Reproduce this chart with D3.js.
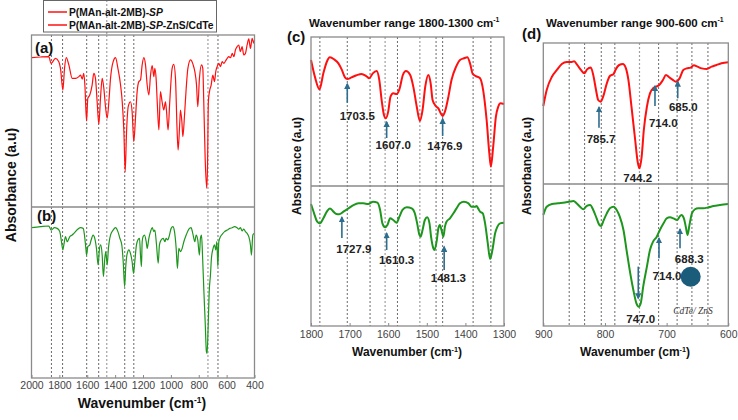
<!DOCTYPE html>
<html><head><meta charset="utf-8">
<script src="https://cdn.jsdelivr.net/npm/d3@7"></script>
<style>body{margin:0;background:#fff}svg{display:block;font-family:Arial,"Liberation Sans",sans-serif}</style>
</head><body><svg id="c" width="738" height="420"></svg>
<script>
// ---------- DATA (wavenumber, relative absorbance 0-100) ----------
const seriesNames = ["P(MAn-alt-2MB)-SP", "P(MAn-alt-2MB)-SP-ZnS/CdTe"];
const redFull = [[2000,86.8],[1935,87.2],[1876,87.4],[1859,83.5],[1828,86.4],[1804,84.5],[1792,80.6],[1775,68.0],[1763,80.6],[1751,86.8],[1732,82.6],[1708,74.8],[1684,74.8],[1660,75.8],[1648,76.7],[1636,74.4],[1625,77.7],[1617,70.9],[1605,50.0],[1596,63.2],[1582,65.1],[1565,70.9],[1553,77.7],[1541,74.8],[1529,61.2],[1517,48.1],[1505,63.2],[1493,74.8],[1481,69.0],[1469,58.3],[1457,51.6],[1445,61.2],[1433,74.8],[1414,84.5],[1397,86.8],[1380,80.6],[1361,70.9],[1349,61.2],[1337,43.8],[1328,20.5],[1318,43.8],[1306,58.3],[1290,61.2],[1278,55.4],[1266,38.0],[1254,51.6],[1242,67.1],[1230,72.9],[1218,73.8],[1206,82.6],[1194,86.8],[1182,82.6],[1170,70.9],[1158,65.1],[1146,76.7],[1134,82.2],[1122,75.8],[1115,80.6],[1106,74.8],[1098,61.2],[1086,44.8],[1075,67.1],[1063,61.2],[1051,56.4],[1039,61.2],[1032,56.4],[1020,44.8],[1008,61.2],[991,80.6],[979,82.9],[967,74.8],[955,43.8],[948,33.1],[936,49.6],[931,56.4],[921,49.6],[914,40.9],[902,53.5],[890,69.0],[878,80.6],[859,85.5],[840,82.6],[828,78.7],[816,70.9],[807,58.3],[795,74.8],[780,82.6],[771,80.6],[764,61.2],[754,28.3],[743,10.9],[737,24.0],[731,61.2],[723,67.1],[711,70.9],[699,76.7],[687,72.9],[678,78.7],[668,81.6],[656,83.5],[644,81.6],[632,84.5],[620,83.5],[608,84.9],[596,86.4],[584,87.4],[572,86.8],[560,89.3],[548,87.4],[537,91.3],[525,93.2],[513,94.2],[501,90.3],[489,93.2],[477,88.4],[465,89.3],[453,94.2],[441,97.7],[429,92.2],[417,98.1],[405,95.2],[400,97.1]];
const greenFull = [[2000,87.9],[1935,88.5],[1876,88.9],[1859,86.5],[1835,87.9],[1816,87.5],[1797,85.6],[1785,79.7],[1775,74.9],[1768,77.8],[1756,82.7],[1744,79.7],[1725,82.7],[1708,83.6],[1696,84.6],[1648,87.9],[1629,87.5],[1620,83.6],[1610,75.8],[1605,71.9],[1596,76.8],[1582,77.8],[1572,80.7],[1558,83.6],[1546,81.7],[1534,75.8],[1522,66.1],[1512,75.8],[1503,77.8],[1493,71.9],[1484,59.3],[1474,70.0],[1467,73.9],[1457,66.1],[1448,75.8],[1433,83.6],[1414,86.5],[1397,87.9],[1380,85.6],[1366,81.7],[1352,77.8],[1342,68.0],[1332,53.4],[1323,66.1],[1313,72.9],[1301,74.9],[1290,72.9],[1278,68.0],[1268,61.2],[1259,68.0],[1247,77.8],[1237,80.7],[1225,81.7],[1218,71.9],[1211,65.1],[1206,79.7],[1199,82.7],[1189,83.6],[1177,79.7],[1170,75.8],[1158,81.7],[1146,85.6],[1134,87.9],[1122,85.6],[1115,86.5],[1103,77.8],[1091,67.1],[1082,77.8],[1070,80.7],[1055,81.7],[1043,79.7],[1034,81.7],[1022,80.7],[1010,83.6],[998,87.5],[986,88.5],[974,85.6],[962,75.8],[953,64.1],[943,75.8],[931,73.9],[919,75.8],[907,79.7],[890,83.6],[871,87.1],[855,87.9],[843,84.6],[828,79.7],[819,83.6],[807,80.7],[795,71.9],[788,81.7],[780,83.6],[773,71.9],[764,52.4],[754,33.0],[745,15.4],[740,14.4],[733,29.0],[725,50.5],[716,60.2],[709,70.0],[697,75.8],[687,77.8],[678,74.9],[670,79.7],[663,65.1],[656,79.7],[644,82.7],[632,84.0],[615,85.6],[596,86.5],[577,87.5],[560,87.9],[544,88.5],[525,87.9],[513,87.1],[501,87.9],[489,86.0],[477,87.1],[465,85.6],[453,84.6],[441,82.7],[429,77.8],[422,71.9],[412,83.6],[400,84.6]];
const redC = [[1800,84.6],[1790,73.4],[1778,64.9],[1768,75.6],[1759,83.4],[1751,86.4],[1740,85.0],[1729,82.3],[1720,77.9],[1712,72.9],[1706,71.8],[1695,72.9],[1682,74.3],[1669,75.2],[1657,73.8],[1649,72.3],[1640,75.6],[1630,77.2],[1623,71.1],[1617,57.7],[1611,47.7],[1606,45.4],[1600,49.9],[1594,60.0],[1587,62.2],[1578,61.7],[1571,64.9],[1562,74.5],[1554,77.2],[1543,74.5],[1535,66.7],[1526,53.2],[1518,43.6],[1511,51.0],[1504,66.7],[1496,74.5],[1490,68.9],[1485,57.7],[1477,53.7],[1470,52.1],[1464,48.8],[1459,47.0],[1453,49.9],[1444,60.0],[1436,71.1],[1424,80.1],[1414,84.6],[1404,85.7],[1395,86.4],[1388,82.3],[1381,75.2],[1373,73.8],[1362,72.3],[1354,64.4],[1345,44.3],[1338,21.9],[1334,13.0],[1328,26.4],[1321,46.5],[1315,53.2],[1309,55.5],[1300,55.0]];
const greenC = [[1800,87.1],[1792,80.5],[1784,74.5],[1777,73.3],[1768,76.9],[1759,81.7],[1751,84.0],[1742,81.7],[1734,80.0],[1727,79.8],[1716,81.7],[1703,84.0],[1690,86.4],[1677,87.6],[1664,87.6],[1652,87.1],[1639,88.8],[1628,88.1],[1621,82.9],[1615,73.3],[1608,70.5],[1602,72.1],[1595,76.9],[1587,75.7],[1578,73.8],[1571,78.1],[1563,82.9],[1552,84.8],[1539,84.0],[1531,80.5],[1525,73.3],[1519,65.0],[1516,63.8],[1511,68.6],[1505,75.7],[1499,77.6],[1493,73.3],[1489,63.8],[1483,55.5],[1480,54.3],[1474,61.4],[1470,69.8],[1466,72.1],[1462,68.6],[1457,63.8],[1453,71.0],[1449,74.5],[1440,76.9],[1431,80.5],[1423,84.0],[1414,87.6],[1404,88.8],[1392,87.6],[1384,85.2],[1375,85.2],[1371,85.7],[1367,84.0],[1362,81.7],[1355,80.5],[1349,73.3],[1342,59.0],[1336,47.9],[1330,54.3],[1323,66.2],[1317,71.0],[1310,73.3],[1300,73.8]];
const redD = [[900,55.3],[894.5,66.7],[886,76.1],[878,80.9],[870,85.1],[862,86.5],[854,86.5],[850,87.0],[845,84.4],[839,80.9],[833.5,78.5],[829,81.3],[823,82.7],[819,77.3],[814.5,66.7],[811,59.6],[807,58.4],[803,61.9],[797,71.4],[792,76.6],[786,78.0],[783,80.9],[777,84.4],[771,85.1],[766,82.0],[762,73.8],[757,54.8],[751,31.2],[747,15.8],[744,11.1],[740.5,19.4],[737,38.3],[732,54.8],[727,64.3],[722,67.9],[717,69.0],[712,70.2],[706,73.8],[701,77.3],[696,75.7],[690,73.8],[685,72.6],[679,74.9],[673,80.9],[667.5,82.0],[661,82.5],[656,84.2],[650,83.2],[643,82.0],[635,81.6],[627,83.2],[619,84.4],[611,85.6],[600,86.3]];
const greenD = [[900,78.2],[894.5,84.0],[886,85.9],[876,86.4],[865,86.9],[857,87.6],[851,88.0],[846,86.4],[840.5,84.0],[835,82.2],[830,84.5],[824,85.2],[819,81.7],[813.5,75.8],[809,71.1],[806,70.4],[803,73.5],[797,79.3],[792,82.9],[786,84.0],[781,81.7],[776,77.0],[770,67.6],[765,53.5],[759,37.1],[754,25.4],[749,16.0],[745,13.6],[742,16.0],[738,27.7],[732,41.8],[727,53.5],[722,59.4],[716,62.9],[711,67.6],[705,72.3],[700,75.8],[694.5,76.5],[689,75.8],[683,74.6],[679,77.0],[676,78.2],[672,75.8],[669,70.0],[666,64.1],[663,71.1],[659,79.3],[654,82.2],[649,82.9],[640.5,82.9],[632,83.6],[624,84.5],[613.5,85.2],[600,85.9]];
const linesA = [1857,1777,1604,1518,1460,1331,1266,734,662];
const linesC = [1777,1706,1647,1608,1576,1518,1476,1459,1380,1334];
const linesD = [858,833,806,784,744,713,683,659,633];
const ticksA = [2000,1800,1600,1400,1200,1000,800,600,400];
const ticksC = [1800,1700,1600,1500,1400,1300];
const ticksD = [900,800,700,600];
// annotations: label, arrow wavenumber, arrow tail value, arrow head value, label wavenumber, label value
const annC1 = [["1703.5",1706,55.9,68.5,1680,44.3],["1607.0",1604,32.2,43.0,1587,24.8],["1476.9",1459,33.6,45.0,1453,24.2]];
const annC2 = [["1727.9",1720,62.9,77.6,1689,52.4],["1610.3",1604,54.3,66.2,1578,44.3],["1481.3",1455,40.0,56.6,1444,31.2]];
const annD1 = [["785.7",809.7,39.9,54.4,806.4,29.3],["744.2",null,0,0,747,1.6],["714.0",718.9,55.3,69.5,705.4,40.6],["685.0",682,60.8,72.6,673,51.8]];
const annD2 = [["714.0",712.4,47.7,61.8,699.4,32.4],["688.3",678.3,54.7,68.1,663.3,44.6],["747.0",746,41.8,19.5,742,1.9]];
const dotD = [661,34.7];
const dotLabel = "CdTe/ ZnS";

// ---------- DRAW ----------
const svg = d3.select("#c");
const RED = "#ff1010", GREEN = "#1e961e", ARROW = "#2d6d8e", FRAME = "#8a8a8a";
const defs = svg.append("defs");
defs.append("marker").attr("id","ah").attr("viewBox","0 0 10 10").attr("refX",8).attr("refY",5)
  .attr("markerWidth",4).attr("markerHeight",4).attr("orient","auto")
  .append("path").attr("d","M0,0L10,5L0,10z").attr("fill",ARROW);

const xA = d3.scaleLinear().domain([2000,400]).range([31.5,254.5]);
const yA = d3.scaleLinear().domain([0,100]).range([207,35]);
const yB = d3.scaleLinear().domain([0,100]).range([378,207]);
const xC = d3.scaleLinear().domain([1800,1300]).range([311,504]);
const yC1 = d3.scaleLinear().domain([0,100]).range([186,37]);
const yC2 = d3.scaleLinear().domain([0,100]).range([326,186]);
const xD = d3.scaleLinear().domain([900,600]).range([543.3,728.3]);
const yD1 = d3.scaleLinear().domain([0,100]).range([184,43]);
const yD2 = d3.scaleLinear().domain([0,100]).range([326,184]);

function dashed(lines, x, y0, y1, light){
  svg.append("g").selectAll("line").data(lines).join("line")
    .attr("x1",d=>x(d)).attr("x2",d=>x(d)).attr("y1",y0).attr("y2",y1)
    .attr("stroke",d=>light.includes(d)?"#a0a0a0":"#444").attr("stroke-width",d=>light.includes(d)?1.2:0.8)
    .attr("stroke-dasharray","2,2");
}
dashed(linesA, xA, 35, 378, [1460,734]);
svg.append("line").attr("x1",xA(1460)).attr("x2",xA(1460)).attr("y1",0).attr("y2",35)
  .attr("stroke","#a0a0a0").attr("stroke-width",1.2).attr("stroke-dasharray","2,2");
dashed(linesC, xC, 37, 326, [1608,1518]);
dashed(linesD, xD, 43, 326, [744]);

function curve(data, x, y, color, w, c){
  svg.append("path").datum(data).attr("fill","none").attr("stroke",color).attr("stroke-width",w)
    .attr("stroke-linejoin","round")
    .attr("d", d3.line().x(d=>x(d[0])).y(d=>y(d[1])).curve(c));
}
curve(redFull, xA, yA, RED, 1.2, d3.curveMonotoneX);
curve(greenFull, xA, yB, GREEN, 1.2, d3.curveMonotoneX);
curve(redC, xC, yC1, RED, 2, d3.curveMonotoneX);
curve(greenC, xC, yC2, GREEN, 2, d3.curveMonotoneX);
curve(redD, xD, yD1, RED, 2, d3.curveMonotoneX);
curve(greenD, xD, yD2, GREEN, 2, d3.curveMonotoneX);

function frame(x, yTop, yBot, yMid){
  const [l,r] = x.range();
  svg.append("rect").attr("x",l).attr("y",yTop).attr("width",r-l).attr("height",yBot-yTop)
    .attr("fill","none").attr("stroke",FRAME).attr("stroke-width",1.3);
  svg.append("line").attr("x1",l).attr("x2",r).attr("y1",yMid).attr("y2",yMid)
    .attr("stroke",FRAME).attr("stroke-width",1.3);
}
frame(xA,35,378,207); frame(xC,37,326,186); frame(xD,43,326,184);

function axis(x, yBot, ticks, minor, fs, pad){
  const g = svg.append("g").attr("transform",`translate(0,${yBot})`);
  if(minor) g.call(d3.axisBottom(x).tickValues(minor).tickSizeInner(-3).tickSizeOuter(0).tickFormat(""));
  g.call(d3.axisBottom(x).tickValues(ticks).tickSizeInner(-3).tickSizeOuter(0).tickPadding(pad).tickFormat(d3.format("d")));
  g.select(".domain").remove();
  g.selectAll("line").attr("stroke",FRAME);
  g.selectAll("text").attr("font-size",fs).attr("fill","#444").attr("font-family","Arial,'Liberation Sans',sans-serif");
}
axis(xA, 378, ticksA, d3.range(2000,399,-100), 10.5, 4);
axis(xC, 326, ticksC, null, 10.5, 5);
axis(xD, 326, ticksD, null, 10.5, 5);

function xTitle(cx, y, fs){
  const t = svg.append("text").attr("x",cx).attr("y",y).attr("text-anchor","middle")
    .attr("font-size",fs).attr("font-weight","bold").attr("fill","#111");
  t.append("tspan").text("Wavenumber (cm");
  t.append("tspan").attr("dy",-fs*0.33).attr("font-size",fs*0.6).text("-1");
  t.append("tspan").attr("dy",fs*0.33).text(")");
}
xTitle(142, 408, 14); xTitle(407, 356, 12); xTitle(635, 356, 12);

function yTitle(cx, cy, fs){
  svg.append("text").attr("transform",`translate(${cx},${cy}) rotate(-90)`).attr("text-anchor","middle")
    .attr("dominant-baseline","central").attr("font-size",fs).attr("font-weight","bold").attr("fill","#111")
    .text("Absorbance (a.u)");
}
yTitle(11, 185, 14); yTitle(297, 166, 12); yTitle(527, 166, 12);

function label(x, y, t, fs){
  svg.append("text").attr("x",x).attr("y",y).attr("font-size",fs).attr("font-weight","bold").attr("fill","#111").text(t);
}
label(35, 53, "(a)", 15); label(37, 221, "(b)", 15); label(287, 42, "(c)", 15); label(522, 39, "(d)", 15);

function title(x, y, str, fs){
  const t = svg.append("text").attr("x",x).attr("y",y).attr("font-size",fs).attr("font-weight","bold").attr("fill","#111");
  t.append("tspan").text(str);
  t.append("tspan").attr("dy",-fs*0.4).attr("font-size",fs*0.6).text("-1");
}
title(309, 27, "Wavenumber range 1800-1300 cm", 11.5);
title(546, 27, "Wavenumber range 900-600 cm", 11.5);

function annotate(list, x, y){
  list.forEach(a=>{
    if(a[1]!==null){
      svg.append("line").attr("x1",x(a[1])).attr("x2",x(a[1])).attr("y1",y(a[2])).attr("y2",y(a[3]))
        .attr("stroke",ARROW).attr("stroke-width",1.6).attr("marker-end","url(#ah)");
    }
    svg.append("text").attr("x",x(a[4])).attr("y",y(a[5])).attr("text-anchor","middle")
      .attr("font-size",11.5).attr("font-weight","bold").attr("fill","#222").text(a[0]);
  });
}
annotate(annC1, xC, yC1); annotate(annC2, xC, yC2);
annotate(annD1, xD, yD1); annotate(annD2, xD, yD2);

svg.append("circle").attr("cx",xD(dotD[0])).attr("cy",yD2(dotD[1])).attr("r",10).attr("fill","#1b5c7a");
svg.append("text").attr("x",xD(657.3)).attr("y",yD2(8.2)).attr("text-anchor","middle")
  .attr("font-family","'Liberation Serif','DejaVu Serif',serif").attr("font-style","italic")
  .attr("font-size",9.5).attr("fill","#333").text(dotLabel);

// legend
const lg = svg.append("g");
lg.append("rect").attr("x",43.5).attr("y",0.5).attr("width",173).attr("height",31.5)
  .attr("fill","none").attr("stroke","#666").attr("stroke-width",1);
[[12,0],[25,1]].forEach(([yy,i])=>{
  lg.append("line").attr("x1",48).attr("x2",67).attr("y1",yy).attr("y2",yy).attr("stroke",RED).attr("stroke-width",1.5);
  const t = lg.append("text").attr("x",69).attr("y",yy).attr("dominant-baseline","central")
    .attr("font-size",10.3).attr("font-weight","bold").attr("fill","#111");
  const parts = seriesNames[i].split("-SP");
  t.append("tspan").text(parts[0]+"-");
  t.append("tspan").attr("font-style","italic").text("SP");
  if(parts[1]) t.append("tspan").text(parts[1]);
});
</script></body></html>
